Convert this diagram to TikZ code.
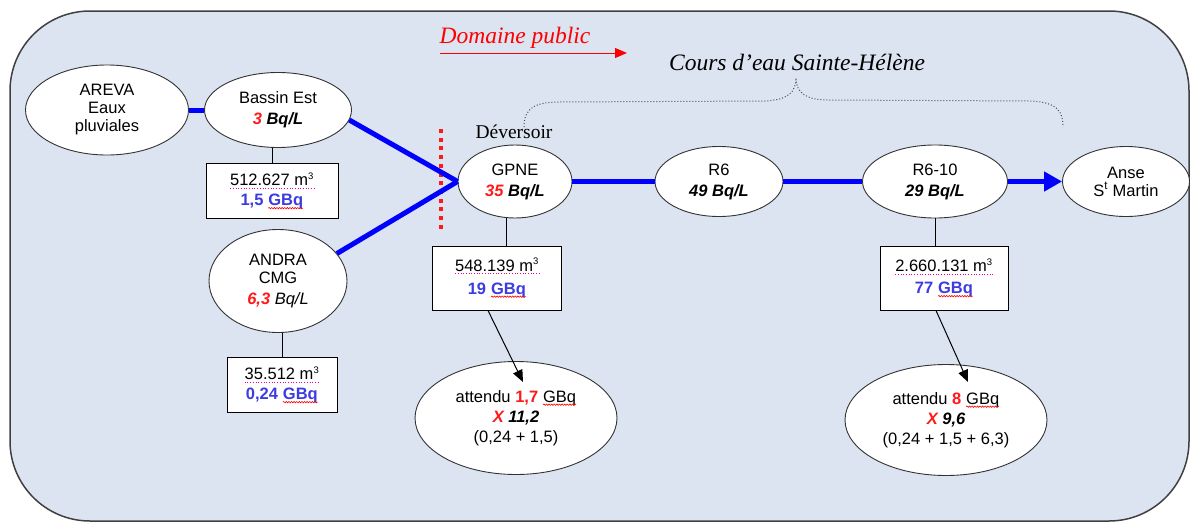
\documentclass[tikz,border=0pt]{standalone}
\usepackage{fontspec}
\setmainfont{Liberation Serif}
\setsansfont{Liberation Sans}
\usetikzlibrary{arrows.meta,decorations.pathmorphing,shapes.geometric}
\definecolor{bgblue}{RGB}{219,228,240}
\definecolor{qblue}{RGB}{60,60,225}
\definecolor{qred}{RGB}{255,25,25}
\tikzset{plainword/.style={shape=rectangle, draw=none, fill=none, inner sep=0pt, outer sep=0pt,
  minimum width=0pt, minimum height=0pt, anchor=center, align=left}}
\newcommand{\bi}[1]{{\bfseries\itshape #1}}
\newcommand{\wv}[1]{\tikz[baseline=(wvn.base)]{\node[plainword](wvn){#1};\draw[red,line width=0.6pt,decorate,decoration={snake,amplitude=0.7pt,segment length=2.6pt}]([yshift=-2.4pt]wvn.base west)--([yshift=-2.4pt]wvn.base east);}}
\newcommand{\dt}[1]{\tikz[baseline=(dtn.base)]{\node[plainword](dtn){#1};\draw[magenta,line width=0.7pt,dotted]([yshift=-2.6pt]dtn.base west)--([yshift=-2.6pt]dtn.base east);}}
\newcommand{\cube}{\textsuperscript{\fontsize{9.5}{10}\selectfont 3}}
\begin{document}
\begin{tikzpicture}[x=1pt,y=-1pt,
  ell/.style={ellipse, draw=black!80, fill=white, line width=0.9pt, inner sep=0pt, align=center,
    font=\sffamily\fontsize{16.5}{18}\selectfont},
  qbox/.style={rectangle, draw=black, fill=white, line width=1pt, inner sep=0pt, align=center,
    font=\sffamily\fontsize{16.5}{20}\selectfont},
  flow/.style={draw=blue, line width=5pt},
  link/.style={draw=black, line width=0.9pt},
  darrow/.style={draw=black, line width=1pt, -{Triangle[length=12pt,width=10pt]}},
  serifit/.style={font=\rmfamily\itshape\fontsize{23.5}{26}\selectfont, inner sep=0pt}
]
\useasboundingbox (0,0) rectangle (1190,522);
\draw[fill=bgblue, draw=black!75, line width=1.5pt, rounded corners=80pt] (10,11) rectangle (1189,521);

% titles
\node[serifit, text=red] (dom) at (515,38) {Domaine public};
\coordinate (d1) at (440,53);
\coordinate (d2) at (627,53);
\draw[red, line width=1pt, -{Triangle[length=12pt,width=10pt]}] (d1) -- (d2);
\node[serifit, text=black] (cours) at (797,62) {Cours d’eau Sainte-Hélène};
\node[font=\rmfamily\fontsize{19.5}{22}\selectfont, inner sep=0pt] (dev) at (514,132) {Déversoir};

% brace
\coordinate (bl) at (524,127);
\coordinate (br) at (1063,127);
\draw[dotted, line width=1pt, black!70] (bl) .. controls (524,108) and (535,102) .. (560,102) -- (765,101) .. controls (788,100) and (796,92) .. (796,78) .. controls (796,92) and (805,100) .. (828,100) -- (1030,101) .. controls (1058,102) and (1063,112) .. (br);

% red dotted boundary
\coordinate (v1) at (441,129);
\coordinate (v2) at (441,232);
\draw[qred, line width=4pt, dash pattern=on 4pt off 4.7pt] (v1) -- (v2);

% ellipses
\node[ell, minimum width=163pt, minimum height=90pt] (areva) at (107,110) {AREVA\\Eaux\\pluviales};
\node[ell, minimum width=147pt, minimum height=75pt] (bassin) at (278,110) {Bassin Est\\[3pt]\bi{\textcolor{qred}{3} Bq/L}};
\node[ell, minimum width=138pt, minimum height=103pt] (andra) at (278,281) {ANDRA\\CMG\\[3pt]\textcolor{qred}{\bfseries\itshape 6,3} \textit{Bq/L}};
\node[ell, minimum width=114pt, minimum height=73pt] (gpne) at (515,181.5) {GPNE\\[3pt]\bi{\textcolor{qred}{35} Bq/L}};
\node[ell, minimum width=128pt, minimum height=70pt] (r6) at (719,181.5) {R6\\[3pt]\bi{49 Bq/L}};
\node[ell, minimum width=145pt, minimum height=73pt] (r610) at (935,181.5) {R6-10\\[3pt]\bi{29 Bq/L}};
\node[ell, minimum width=127pt, minimum height=70pt] (anse) at (1126,181.5) {Anse\\S\textsuperscript{t} Martin};
\node[ell, minimum width=202pt, minimum height=113pt, font=\sffamily\fontsize{16.5}{20}\selectfont] (att1) at (516,418) {attendu \textcolor{qred}{\bfseries 1,7} \wv{GBq}\\\bi{\textcolor{qred}{X} 11,2}\\(0,24 + 1,5)};
\node[ell, minimum width=202pt, minimum height=111pt, font=\sffamily\fontsize{16.5}{20}\selectfont] (att2) at (946,420) {attendu \textcolor{qred}{\bfseries 8} \wv{GBq}\\\bi{\textcolor{qred}{X} 9,6}\\(0,24 + 1,5 + 6,3)};

% boxes
\node[qbox, minimum width=132pt, minimum height=55pt] (box1) at (272,191) {\dt{512.627 m\cube}\\\textcolor{qblue}{\bfseries 1,5} \wv{\textcolor{qblue}{\bfseries GBq}}};
\node[qbox, minimum width=110pt, minimum height=55pt] (box2) at (282,385) {\dt{35.512 m\cube}\\\textcolor{qblue}{\bfseries 0,24} \wv{\textcolor{qblue}{\bfseries GBq}}};
\node[qbox, minimum width=129pt, minimum height=64pt] (box3) at (497,278) {\dt{548.139 m\cube}\\[3pt]\textcolor{qblue}{\bfseries 19} \wv{\textcolor{qblue}{\bfseries GBq}}};
\node[qbox, minimum width=128pt, minimum height=64pt] (box4) at (944,278) {\dt{2.660.131 m\cube}\\[2pt]\textcolor{qblue}{\bfseries 77} \wv{\textcolor{qblue}{\bfseries GBq}}};

% flows
\draw[flow] (areva) -- (bassin);
\draw[flow] (bassin.-8) -- (gpne.west);
\draw[flow] (andra.25) -- (gpne.west);
\draw[flow] (gpne.east) -- (r6.west);
\draw[flow] (r6.east) -- (r610.west);
\draw[flow, -{Triangle[length=18pt,width=19pt]}] (r610.east) -- (anse.west);

% links
\draw[link] (box1.north) -- (box1.north |- bassin.south);
\draw[link] (box2.north) -- (box2.north |- andra.south);
\draw[link] ([xshift=9pt]box3.north) -- ([xshift=9pt]box3.north |- gpne.south);
\draw[link] (r610.south) -- (r610.south |- box4.north);

% arrows
\coordinate (a1) at (523,382);
\coordinate (a2) at (968,382);
\draw[darrow] ([xshift=-9pt]box3.south) -- (a1);
\draw[darrow] ([xshift=-8pt]box4.south) -- (a2);
\end{tikzpicture}
\end{document}
